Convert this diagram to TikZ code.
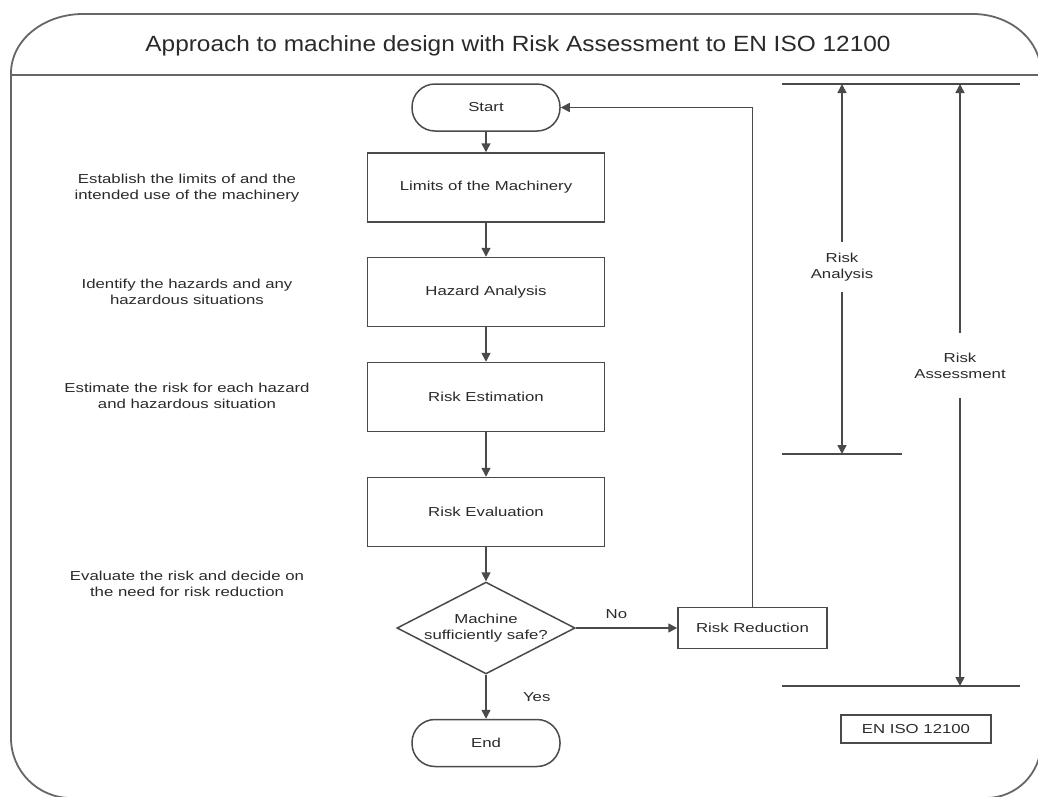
\documentclass[tikz,border=0pt]{standalone}
\usepackage{fontspec}
\setmainfont{Liberation Sans}[FakeStretch=1.29]
\newfontfamily\titlefont{Liberation Sans}[FakeStretch=1.11]
\usetikzlibrary{arrows.meta,shapes.geometric}
\definecolor{ink}{HTML}{2A2A2A}
\definecolor{rule}{HTML}{4A4A4A}
\definecolor{framegray}{HTML}{666666}

\begin{document}
\begin{tikzpicture}[x=1pt,y=-1pt,
  every node/.style={text=ink, font=\fontsize{13}{16}\selectfont, align=center},
  line/.style={draw=rule, line width=1.5pt},
  flow/.style={line, -{Triangle[length=9pt,width=9pt]}},
  stepbox/.style={line, rectangle, minimum width=237pt, minimum height=69pt, inner sep=0pt},
  terminal/.style={line, rectangle, rounded corners=23pt, minimum width=148pt, minimum height=47pt, inner sep=0pt},
  decision/.style={line, diamond, aspect=1.94, inner sep=0pt},
  note/.style={inner sep=0pt},
]
\useasboundingbox (0,0) rectangle (1038,796);

% outer frame with rounded corners and title band
\draw[draw=framegray, line width=1.8pt]
  (11,73) .. controls (11,40.4) and (43.3,14) .. (83,14)
  -- (973,14) .. controls (1010.5,14) and (1041,40.4) .. (1041,73)
  -- (1041,743) .. controls (1041,773.4) and (1016.4,798) .. (986,798)
  -- (71,798) .. controls (37.9,798) and (11,771.1) .. (11,738) -- cycle;
\coordinate (bandL) at (11,75);
\coordinate (bandR) at (1041,75);
\draw[draw=framegray, line width=1.8pt] (bandL) -- (bandR);

\node (title) at (518,46) {\titlefont\fontsize{22}{26}\selectfont Approach to machine design with Risk Assessment to EN ISO 12100};

% flow chart
\node[terminal] (start) at (486,107.5) {Start};
\node[stepbox] (limits) at (486,187.5) {Limits of the Machinery};
\node[stepbox] (hazard) at (486,292) {Hazard Analysis};
\node[stepbox] (estim) at (486,397) {Risk Estimation};
\node[stepbox] (evalu) at (486,512) {Risk Evaluation};
\node[decision] (safe) at (486,628) {Machine\\sufficiently safe?};
\node[terminal] (end) at (486,743) {End};
\node[line, rectangle, minimum width=149pt, minimum height=41pt, inner sep=0pt] (reduce) at (752.5,628) {Risk Reduction};

\draw[flow] (start) -- (limits);
\draw[flow] (limits) -- (hazard);
\draw[flow] (hazard) -- (estim);
\draw[flow] (estim) -- (evalu);
\draw[flow] (evalu) -- (safe);
\draw[flow] (safe) -- node[pos=0.5, right=33pt] {Yes} (end);
\draw[flow] (safe.east) -- node[pos=0.4, above=5pt] {No} (reduce.west);
\draw[flow] (reduce.north) |- (start.east);

% explanations on the left
\node[note] (n1) at (187,188) {Establish the limits of and the\\intended use of the machinery};
\node[note] (n2) at (187,292) {Identify the hazards and any\\hazardous situations};
\node[note] (n3) at (187,396) {Estimate the risk for each hazard\\and hazardous situation};
\node[note] (n4) at (187,584) {Evaluate the risk and decide on\\the need for risk reduction};

% scope brackets on the right
\coordinate (barTopL) at (782,84);
\coordinate (barTopR) at (1020,84);
\coordinate (barMidL) at (782,454);
\coordinate (barMidR) at (902,454);
\coordinate (barBotL) at (782,686);
\coordinate (barBotR) at (1020,686);
\draw[line] (barTopL) -- (barTopR);
\draw[line] (barMidL) -- (barMidR);
\draw[line] (barBotL) -- (barBotR);

\coordinate (anaTop) at (842,84);
\coordinate (anaBot) at (842,454);
\coordinate (assTop) at (960,84);
\coordinate (assBot) at (960,686);
\node[note, minimum height=50pt] (ana) at (842,267) {Risk\\Analysis};
\node[note, minimum height=65pt] (ass) at (960,365.5) {Risk\\Assessment};
\draw[flow] (ana.north) -- (anaTop);
\draw[flow] (ana.south) -- (anaBot);
\draw[flow] (ass.north) -- (assTop);
\draw[flow] (ass.south) -- (assBot);

\node[line, rectangle, minimum width=150pt, minimum height=28pt, inner sep=0pt] (std) at (916,729) {EN ISO 12100};
\end{tikzpicture}
\end{document}
